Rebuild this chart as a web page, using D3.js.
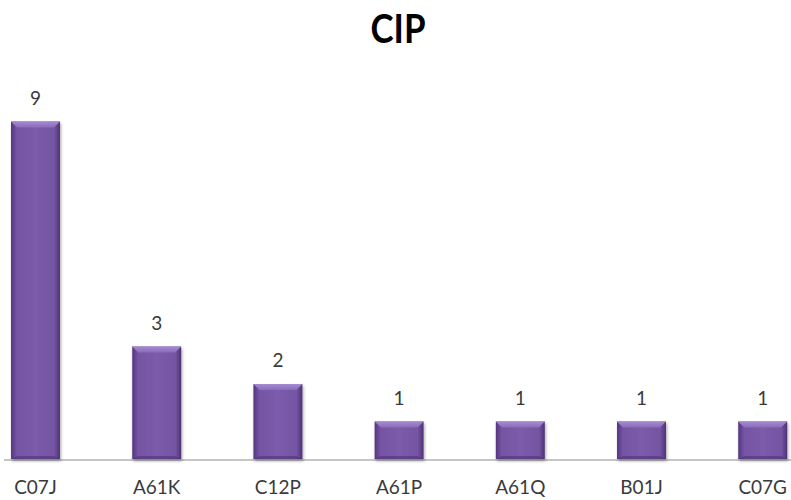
<!DOCTYPE html>
<html><head><meta charset="utf-8">
<script src="https://cdn.jsdelivr.net/npm/d3@7"></script>
<style>html,body{margin:0;padding:0;background:#fff;overflow:hidden}</style>
</head><body>
<svg id="c" width="791" height="500"></svg>
<script>
const title = "CIP";
const categories = ["C07J","A61K","C12P","A61P","A61Q","B01J","C07G"];
const values = [9,3,2,1,1,1,1];

const svg = d3.select("#c");
const W = 791, H = 500;
const x = d3.scaleBand().domain(categories).range([-25.1, 823.3]).paddingInner(0.596).paddingOuter(0.298);
const y = d3.scaleLinear().domain([0, 9]).range([459, 121.5]);

const defs = svg.append("defs");
const g1 = defs.append("linearGradient").attr("id","side").attr("x1","0").attr("x2","1").attr("y1","0").attr("y2","0");
[[0,"#553580"],[0.12,"#7455a3"],[0.5,"#7b5bab"],[0.88,"#7455a3"],[1,"#4e3176"]].forEach(([o,c])=>g1.append("stop").attr("offset",o).attr("stop-color",c));
const g2 = defs.append("linearGradient").attr("id","topb").attr("x1","0").attr("x2","0").attr("y1","0").attr("y2","1");
[[0,"#a58bd0"],[1,"#8a6bbb"]].forEach(([o,c])=>g2.append("stop").attr("offset",o).attr("stop-color",c));
const f = defs.append("filter").attr("id","sh").attr("x","-20%").attr("y","-20%").attr("width","140%").attr("height","140%");
f.append("feDropShadow").attr("dx",1).attr("dy",2).attr("stdDeviation",1.5).attr("flood-color","#000").attr("flood-opacity",0.35);

// axis
const axis = d3.axisBottom(x).tickSize(0).tickPadding(0);
const ax = svg.append("g").attr("transform",`translate(0,${y(0)+1})`).call(axis);
ax.select(".domain").attr("d",`M4,0H${W}`).attr("stroke","#8c8c8c").attr("stroke-width",1);
ax.selectAll(".tick text").attr("y",34).attr("dy",0)
  .style("font-family","Lato, 'Open Sans', sans-serif").style("font-size","19px").attr("fill","#3a3a3a");

const bars = svg.append("g").selectAll("g").data(categories).join("g");
bars.each(function(c,i){
  const gx = d3.select(this);
  const x0 = x(c), bw = x.bandwidth(), y0 = y(values[i]), y1 = y(0);
  const b = 6;
  gx.append("rect").attr("x",x0).attr("y",y0).attr("width",bw).attr("height",y1-y0)
    .attr("fill","url(#side)").attr("filter","url(#sh)");
  gx.append("path").attr("d",`M${x0},${y0}H${x0+bw}L${x0+bw-b},${y0+b}H${x0+b}Z`).attr("fill","url(#topb)");
  gx.append("path").attr("d",`M${x0},${y1}H${x0+bw}L${x0+bw-b},${y1-3}H${x0+b}Z`).attr("fill","#4f3278").attr("opacity",0.6);
  gx.append("text").attr("x",x0+bw/2).attr("y",y0-17).attr("text-anchor","middle")
    .style("font-family","Lato, 'Open Sans', sans-serif").style("font-size","19px").attr("fill","#3a3a3a")
    .text(values[i]);
});

svg.append("text").attr("x",398).attr("y",43).attr("text-anchor","middle")
  .style("font-family","Lato, 'Open Sans', sans-serif").style("font-size","40px").style("font-weight","bold")
  .attr("textLength",55).attr("lengthAdjust","spacingAndGlyphs").attr("fill","#000").text(title);
</script>
</body></html>
